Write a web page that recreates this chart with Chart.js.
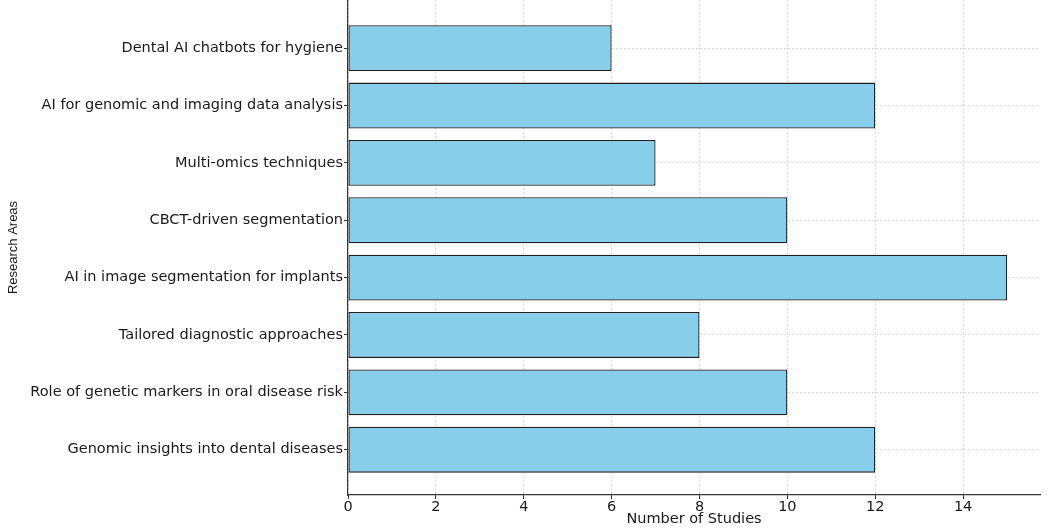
<!DOCTYPE html>
<html>
<head>
<meta charset="utf-8">
<script src="https://cdn.jsdelivr.net/npm/chart.js@4/dist/chart.umd.min.js"></script>
<style>
  html, body { margin: 0; padding: 0; background: #fff; }
  #wrap { width: 1049px; height: 531px; position: relative; }
</style>
</head>
<body>
<div id="wrap"><canvas id="c"></canvas></div>
<script>
// Categories listed bottom-to-top (as plotted on the y axis)
const categories = [
  "Genomic insights into dental diseases",
  "Role of genetic markers in oral disease risk",
  "Tailored diagnostic approaches",
  "AI in image segmentation for implants",
  "CBCT-driven segmentation",
  "Multi-omics techniques",
  "AI for genomic and imaging data analysis",
  "Dental AI chatbots for hygiene"
];
const studyCounts = [12, 10, 8, 15, 10, 7, 12, 6];
const xTicks = [0, 2, 4, 6, 8, 10, 12, 14];
const xTitle = "Number of Studies";
const yTitle = "Research Areas";

const points = categories.map((c, i) => ({ y: i, x: studyCounts[i] }));
const font = { family: "'DejaVu Sans', sans-serif", size: 14.5 };

new Chart(document.getElementById('c'), {
  type: 'bar',
  data: {
    datasets: [{
      data: points,
      backgroundColor: '#87CEEB',
      borderColor: '#1e1e1e',
      borderWidth: 1.3,
      borderSkipped: false,
      barPercentage: 0.8,
      categoryPercentage: 1.0
    }]
  },
  options: {
    indexAxis: 'y',
    responsive: true,
    maintainAspectRatio: false,
    animation: false,
    layout: { padding: { top: 0, right: 9, bottom: 0, left: 0 } },
    plugins: { legend: { display: false }, tooltip: { enabled: false } },
    scales: {
      x: {
        type: 'linear',
        min: 0,
        max: 15.75,
        z: 1,
        offset: false,
        afterBuildTicks: s => { s.ticks = xTicks.map(v => ({ value: v })); },
        afterFit: s => { s.height = 36; s.paddingLeft = 0; s.paddingRight = 0; },
        ticks: { font: font, color: '#1a1a1a', padding: 0, maxRotation: 0 },
        grid: { offset: false, color: 'rgba(0,0,0,0.15)', lineWidth: 1, tickLength: 4, tickColor: '#333', tickWidth: 1 },
        border: { display: true, color: '#333', width: 1.2, dash: [2, 2] },
        title: { display: true, text: xTitle, font: font, color: '#1a1a1a', padding: { top: 0, bottom: 3 } }
      },
      y: {
        type: 'linear',
        min: -0.79,
        max: 7.84,
        z: 1,
        offset: false,
        afterBuildTicks: s => { s.ticks = categories.map((c, i) => ({ value: i })); },
        afterFit: s => { s.width = 348; s.paddingTop = 0; s.paddingBottom = 0; },
        ticks: { font: font, color: '#1a1a1a', padding: 1, callback: v => categories[v] },
        grid: { offset: false, color: 'rgba(0,0,0,0.15)', lineWidth: 1, tickLength: 4, tickColor: '#333', tickWidth: 1 },
        border: { display: true, color: '#333', width: 1.2, dash: [2, 2] },
        title: { display: true, text: yTitle, font: { family: "'Liberation Sans Narrow', 'Liberation Sans', sans-serif", size: 13 }, color: '#1a1a1a', padding: { top: 6, bottom: 0 } }
      }
    }
  }
});
</script>
</body>
</html>
